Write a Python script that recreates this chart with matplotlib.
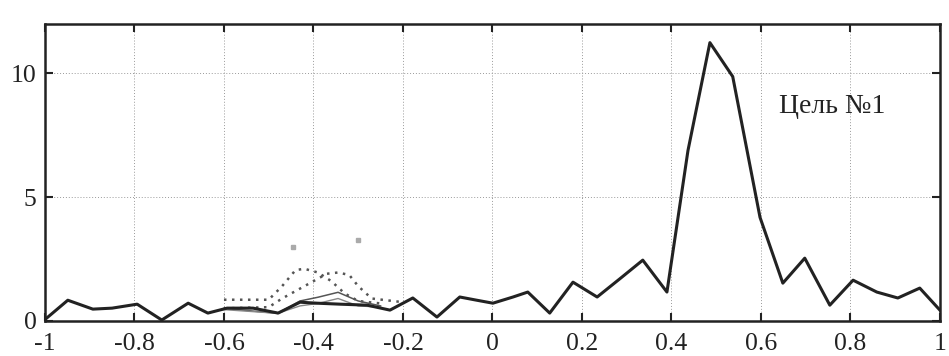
import matplotlib
matplotlib.use("Agg")
import matplotlib.pyplot as plt

plt.rcParams['font.family'] = ['Liberation Serif', 'DejaVu Serif']
plt.rcParams['axes.unicode_minus'] = False

# main pattern (thick line)
main_x = [-1.0, -0.949, -0.893, -0.85, -0.794, -0.739, -0.68, -0.636, -0.593, -0.535,
          -0.479, -0.43, -0.392, -0.34, -0.28, -0.229, -0.178, -0.124, -0.073, -0.035,
          0.001, 0.046, 0.079, 0.128, 0.18, 0.234, 0.285, 0.336, 0.39, 0.437,
          0.486, 0.537, 0.598, 0.649, 0.698, 0.754, 0.806, 0.859, 0.906, 0.955, 1.0]
main_y = [0.05, 0.83, 0.47, 0.51, 0.67, 0.03, 0.71, 0.31, 0.51, 0.51,
          0.31, 0.75, 0.71, 0.67, 0.63, 0.43, 0.92, 0.15, 0.96, 0.83,
          0.71, 0.96, 1.16, 0.31, 1.56, 0.96, 1.7, 2.45, 1.16, 6.88,
          11.24, 9.87, 4.18, 1.52, 2.53, 0.63, 1.64, 1.16, 0.92, 1.32, 0.43]

# secondary curves around -0.4
dot_a_x = [-0.6, -0.55, -0.5, -0.47, -0.44, -0.42, -0.39, -0.36, -0.33, -0.3, -0.25]
dot_a_y = [0.85, 0.85, 0.85, 1.4, 2.05, 2.1, 1.95, 1.6, 1.1, 0.8, 0.7]
dot_b_x = [-0.6, -0.5, -0.47, -0.43, -0.4, -0.37, -0.345, -0.32, -0.3, -0.27, -0.2]
dot_b_y = [0.5, 0.55, 0.9, 1.3, 1.6, 1.9, 1.95, 1.85, 1.4, 0.9, 0.75]
thin_c_x = [-0.6, -0.48, -0.43, -0.39, -0.345, -0.3, -0.25]
thin_c_y = [0.5, 0.3, 0.8, 0.95, 1.15, 0.8, 0.6]
thin_d_x = [-0.6, -0.48, -0.43, -0.39, -0.345, -0.3, -0.25]
thin_d_y = [0.45, 0.3, 0.6, 0.7, 0.9, 0.6, 0.55]
stray_x = [-0.446, -0.30]
stray_y = [2.97, 3.25]

xticks = [-1, -0.8, -0.6, -0.4, -0.2, 0, 0.2, 0.4, 0.6, 0.8, 1]
xtick_labels = ["-1", "-0.8", "-0.6", "-0.4", "-0.2", "0", "0.2", "0.4", "0.6", "0.8", "1"]
yticks = [0, 5, 10]
label = "Цель №1"

fig = plt.figure(figsize=(9.49, 3.56), dpi=100)
ax = fig.add_axes([0.0474, 0.099, 0.943, 0.834])

ax.plot(dot_a_x, dot_a_y, color="#555555", lw=1.8, ls=(0, (1, 2.2)))
ax.plot(dot_b_x, dot_b_y, color="#555555", lw=1.8, ls=(0, (1, 2.2)))
ax.plot(thin_c_x, thin_c_y, color="#555555", lw=1.1)
ax.plot(thin_d_x, thin_d_y, color="#888888", lw=1.0)
ax.plot(stray_x, stray_y, ls="none", marker="s", ms=2.5, color="#aaaaaa")
ax.plot(main_x, main_y, color="#222222", lw=2.2)

ax.text(0.76, 8.65, label, fontsize=20, ha="center", va="center", color="#222222")

ax.set_xlim(-1, 1)
ax.set_ylim(0, 12)
ax.set_xticks(xticks)
ax.set_xticklabels(xtick_labels)
ax.set_yticks(yticks)
ax.grid(True, color="#9a9a9a", ls=(0, (1, 2)), lw=0.7)
ax.tick_params(direction="in", top=True, right=True, length=6, width=1.5,
               labelsize=18.5, colors="#222222")
ax.tick_params(axis="x", pad=9)
ax.tick_params(axis="y", pad=6)
for s in ax.spines.values():
    s.set_linewidth(1.8)
    s.set_color("#222222")

fig.savefig("out.png", dpi=100)
